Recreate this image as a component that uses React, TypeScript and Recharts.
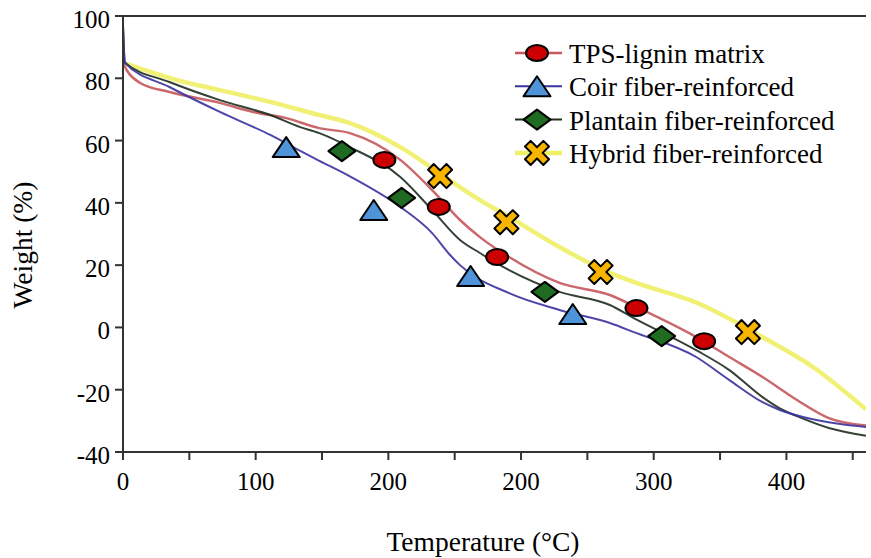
import { ComposedChart, Label, Line, ReferenceLine, Scatter, XAxis, YAxis } from 'recharts';

const FONT = '"Liberation Serif", "Times New Roman", serif';
const AXIS = '#333';

// x is in axis units, one labelled tick every 100; the printed labels repeat "200" as in the source
const xTicks = [0, 50, 100, 150, 200, 250, 300, 350, 400, 450, 500, 550];
const xTickLabels = ['0', '100', '200', '200', '300', '400'];
const yTicks = [-40, -20, 0, 20, 40, 60, 80, 100];

const tpsCurve: [number, number][] = [
  [0, 85], [3, 82.5], [13, 78.5], [35, 75.6], [73, 72.1], [98, 69.2], [123, 67.2], [148, 64.0],
  [171, 62.4], [209, 53.8], [233, 44.1], [254, 34.5], [269, 29.0], [291, 22.6], [329, 14.3],
  [367, 10.4], [387, 6.5], [432, -3.1], [457, -9.5], [482, -15.9], [508, -23.3], [532, -29.1], [560, -31.5],
];
const coirCurve: [number, number][] = [
  [0, 97], [1.5, 85], [35, 77.2], [73, 69.2], [111, 61.8], [130, 57.5], [148, 53.5], [171, 48.5],
  [209, 38.7], [233, 30.3], [246, 23.5], [254, 20.0], [291, 11.0], [329, 5.6], [367, 1.4], [385, -1.5],
  [432, -9.5], [457, -16.9], [482, -24.0], [495, -26.5], [520, -29.5], [560, -32.0],
];
const plantainCurve: [number, number][] = [
  [0, 97], [1.5, 85], [35, 78.8], [73, 73.0], [111, 68.2], [133, 64.4], [148, 62.4], [171, 57.9],
  [209, 48.3], [233, 37.7], [254, 28.1], [269, 23.9], [291, 18.4], [329, 11.4], [367, 7.2], [385, 3.0],
  [432, -7.3], [457, -13.7], [482, -22.4], [495, -26.0], [508, -28.5], [532, -32.3], [560, -34.8],
];
const hybridCurve: [number, number][] = [
  [0, 85], [40, 79.5], [73, 76.2], [110, 72.5], [148, 68.2], [171, 65.6], [209, 57.9], [246, 47.3],
  [269, 40.9], [291, 35.5], [329, 25.8], [367, 17.5], [389, 14.0], [432, 8.0], [482, -3.1], [520, -12.7],
  [560, -26.3],
];

const tpsMarks: [number, number][] = [[197, 53.8], [238, 38.7], [282, 22.6], [387, 6.2], [438, -4.4]];
const coirMarks: [number, number][] = [[123, 57.9], [189, 37.7], [262, 16.5], [339, 4.3]];
const plantainMarks: [number, number][] = [[165, 56.6], [210, 41.6], [318, 11.4], [406, -2.8]];
const hybridMarks: [number, number][] = [[239, 48.6], [289, 33.8], [360, 17.8], [471, -1.5]];

type MarkKind = 'circle' | 'triangle' | 'diamond' | 'cross';

const toPoints = (pairs: [number, number][]) => pairs.map(([x, y]) => ({ x, y }));

const series = [
  { name: 'TPS-lignin matrix', color: '#c4585c', width: 2.5, curve: tpsCurve, marks: tpsMarks, kind: 'circle' as MarkKind, fill: '#cc0000' },
  { name: 'Coir fiber-reinforced', color: '#3a32a0', width: 2, curve: coirCurve, marks: coirMarks, kind: 'triangle' as MarkKind, fill: '#4f94d8' },
  { name: 'Plantain fiber-reinforced', color: '#1e2e20', width: 2, curve: plantainCurve, marks: plantainMarks, kind: 'diamond' as MarkKind, fill: '#1f6b21' },
  { name: 'Hybrid fiber-reinforced', color: '#eef065', width: 4.5, curve: hybridCurve, marks: hybridMarks, kind: 'cross' as MarkKind, fill: '#f7b500' },
];

function Marker({ kind, cx, cy, fill }: { kind: MarkKind; cx: number; cy: number; fill: string }) {
  const common = { fill, stroke: '#000', strokeWidth: 2, strokeLinejoin: 'round' as const };
  if (kind === 'circle') return <ellipse cx={cx} cy={cy} rx={11} ry={8} {...common} />;
  if (kind === 'triangle') {
    return <polygon points={`${cx - 13.5},${cy + 10} ${cx},${cy - 10} ${cx + 13.5},${cy + 10}`} {...common} />;
  }
  if (kind === 'diamond') {
    return <polygon points={`${cx - 13.5},${cy} ${cx},${cy - 10} ${cx + 13.5},${cy} ${cx},${cy + 10}`} {...common} />;
  }
  const L = 13;
  const h = 4;
  const plus = [
    [-h, -L], [h, -L], [h, -h], [L, -h], [L, h], [h, h], [h, L], [-h, L], [-h, h], [-L, h], [-L, -h], [-h, -h],
  ].map(([a, b]) => `${a},${b}`).join(' ');
  return (
    <g transform={`translate(${cx},${cy}) rotate(45)`}>
      <polygon points={plus} {...common} />
    </g>
  );
}

function XTick({ x, y, payload }: any) {
  const v = payload.value as number;
  const label = v % 100 === 0 ? xTickLabels[v / 100] : '';
  return (
    <text x={x} y={y} dy={30} textAnchor="middle" fontFamily={FONT} fontSize={25} fill="#000">
      {label}
    </text>
  );
}

function YTick({ x, y, payload }: any) {
  return (
    <text x={x} y={y} dy={12} textAnchor="end" fontFamily={FONT} fontSize={25} fill="#000">
      {payload.value}
    </text>
  );
}

// drawn over the chart so it does not take space from the plot area
function LegendBox() {
  return (
    <svg width={366} height={140} style={{ position: 'absolute', left: 505, top: 34 }}>
      {series.map((s, i) => {
        const cy = 19 + i * 33.3;
        return (
          <g key={s.name}>
            <line x1={10} x2={57} y1={cy} y2={cy} stroke={s.color} strokeWidth={s.width} />
            <Marker kind={s.kind} cx={32} cy={cy} fill={s.fill} />
            <text x={64} y={cy + 10} fontFamily={FONT} fontSize={27} fill="#000">
              {s.name}
            </text>
          </g>
        );
      })}
    </svg>
  );
}

export default function App() {
  return (
    <div style={{ position: 'absolute', left: 0, top: 0, width: 871, height: 558, background: '#fff' }}>
      <ComposedChart width={871} height={558} margin={{ top: 16, right: 5, bottom: 0, left: 0 }}>
        <XAxis
          type="number"
          dataKey="x"
          domain={[0, 560]}
          ticks={xTicks}
          interval={0}
          height={106}
          tickSize={8}
          tickMargin={0}
          stroke={AXIS}
          strokeWidth={2}
          tick={<XTick />}
          allowDataOverflow
        >
          <Label
            content={() => (
              <text x={483} y={551} textAnchor="middle" fontFamily={FONT} fontSize={27.5} fill="#000">
                Temperature (°C)
              </text>
            )}
          />
        </XAxis>
        <YAxis
          type="number"
          dataKey="y"
          domain={[-40, 100]}
          ticks={yTicks}
          interval={0}
          width={123}
          tickSize={8}
          tickMargin={5}
          stroke={AXIS}
          strokeWidth={2}
          tick={<YTick />}
          allowDataOverflow
        >
          <Label
            content={() => (
              <text
                x={32}
                y={245}
                transform="rotate(-90, 32, 245)"
                textAnchor="middle"
                fontFamily={FONT}
                fontSize={27.5}
                fill="#000"
              >
                Weight (%)
              </text>
            )}
          />
        </YAxis>
        <ReferenceLine y={100} stroke={AXIS} strokeWidth={2} />
        {[3, 0, 2, 1].map((i) => {
          const s = series[i];
          return (
            <Line
              key={s.name}
              data={toPoints(s.curve)}
              dataKey="y"
              type="monotone"
              stroke={s.color}
              strokeWidth={s.width}
              strokeOpacity={0.9}
              dot={false}
              activeDot={false}
              legendType="none"
              isAnimationActive={false}
            />
          );
        })}
        {series.map((s) => (
          <Scatter
            key={s.name + '-marks'}
            name={s.name}
            data={toPoints(s.marks)}
            dataKey="y"
            shape={(p: any) => <Marker kind={s.kind} cx={p.cx} cy={p.cy} fill={s.fill} />}
            isAnimationActive={false}
          />
        ))}
      </ComposedChart>
      <LegendBox />
    </div>
  );
}
